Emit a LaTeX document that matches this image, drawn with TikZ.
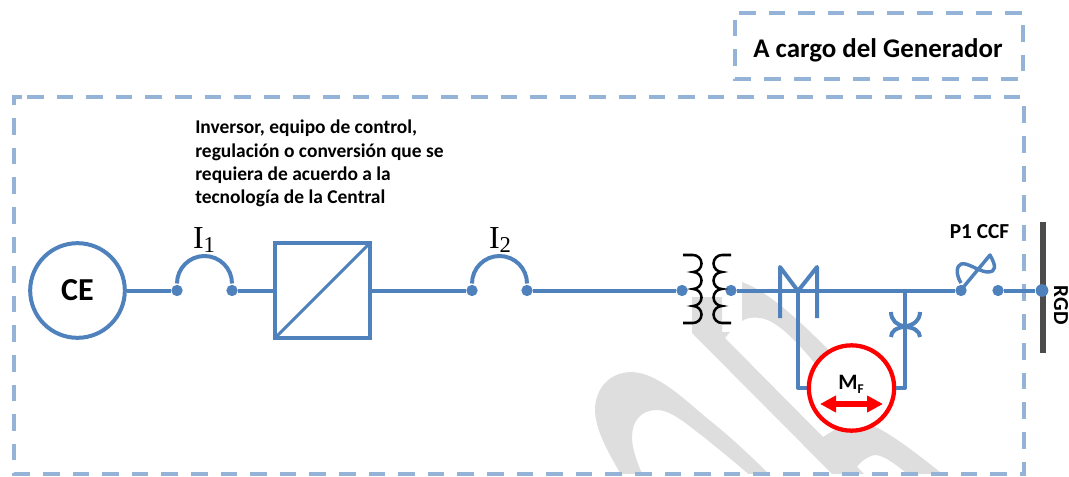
\documentclass[tikz,border=0pt]{standalone}
\usepackage{fontspec}
\setmainfont{Carlito}
\newfontfamily\serifI{Liberation Serif}
\usetikzlibrary{arrows.meta}
\definecolor{wire}{HTML}{4F81BD}
\definecolor{dashb}{HTML}{95B3D7}
\definecolor{wm}{HTML}{DEDEDE}
\newcommand{\fpt}[1]{\fontsize{#1}{17.5}\selectfont}
\tikzset{
 wireline/.style={draw=wire,line width=3pt,line join=round},
 thinw/.style={draw=wire,line width=2.2pt,line join=round},
 dashbox/.style={draw=dashb,line width=3pt,dash pattern=on 12.5pt off 9.7pt},
 dotn/.style={circle,fill=wire,inner sep=0pt,minimum size=8.5pt},
 lab/.style={inner sep=0pt,font=\bfseries,text=black},
 coil/.style={line width=1.9pt,draw=black},
}
\begin{document}
\begin{tikzpicture}[x=0.75pt,y=-0.75pt]
\useasboundingbox (0,0) rectangle (1069,477);
% watermark
\begin{scope}
\clip (0,0) rectangle (1069,473);
\fill[wm] (595,407) .. controls (597,385) and (612,372) .. (632,372) .. controls (660,373) and (690,405) .. (713,423) .. controls (735,441) and (755,460) .. (775,480) -- (755,480) .. controls (735,462) and (722,452) .. (705,438) .. controls (690,427) and (672,410) .. (657,410) .. controls (640,410) and (632,422) .. (632,437) .. controls (632,450) and (638,465) .. (645,480) -- (624,480) .. controls (610,455) and (594,430) .. (595,407) -- cycle;
\fill[wm] (692,297) -- (722,297) -- (722,332) -- (730,332) -- (725,338) -- (823,437) -- (850,420) -- (878,428) .. controls (900,440) and (925,460) .. (950,480) -- (915,480) .. controls (900,468) and (885,455) .. (875,455) .. controls (868,456) and (860,462) .. (857,467) -- (870,480) -- (838,480) -- (692,333) -- cycle;
\fill[wm] (742,282) .. controls (770,292) and (805,325) .. (850,372) -- (822,372) .. controls (800,345) and (778,320) .. (760,318) .. controls (752,317) and (746,318) .. (742,321) -- cycle;
\end{scope}
% dashed frames
\draw[dashbox] (27,97) -- (1024,97) -- (1024,474) -- (14,474) -- (14,97) -- (27,97);
\draw[dashbox] (739,13) -- (1023,13) -- (1023,79) -- (735,79) -- (735,13) -- (739,13);
\node[lab,font=\bfseries\fpt{20.2}] (gen) at (878,50) {A cargo del Generador};
% bus
\draw[line width=4pt,draw=black!70] (1043,222) -- (1043,353);
\node[lab,font=\bfseries\fpt{16},rotate=-90] (rgd) at (1061,305) {RGD};
% CE
\node[circle,draw=wire,line width=3pt,minimum size=71pt,inner sep=0pt,font=\bfseries\fpt{24}] (ce) at (77.5,290.5) {CE};
% switch I1
\node[dotn] (a1) at (177,290.5) {};
\node[dotn] (a2) at (232,290.5) {};
\draw[wireline] (ce) -- (a1);
\draw[wireline] (a1) ++(0,-7) arc[start angle=180,end angle=360,radius=27.5];
\node[inner sep=0pt,font=\serifI\fpt{24}] (i1) at (204,240) {I\raisebox{-3pt}{\fpt{17}1}};
% converter
\node[draw=wire,line width=3pt,minimum size=71pt,inner sep=0pt] (conv) at (322.5,290.5) {};
\draw[thinw,shorten <=1.5pt,shorten >=1.5pt] (conv.south west) -- (conv.north east);
\draw[wireline] (a2) -- (conv);
% I2
\node[dotn] (b1) at (472,290.5) {};
\node[dotn] (b2) at (527,290.5) {};
\draw[wireline] (conv) -- (b1);
\draw[wireline] (b1) ++(0,-7) arc[start angle=180,end angle=360,radius=27.5];
\node[inner sep=0pt,font=\serifI\fpt{24}] (i2) at (500,240) {I\raisebox{-3pt}{\fpt{17}2}};
% transformer
\node[dotn] (t1) at (682,290.5) {};
\node[dotn] (t2) at (731,290.5) {};
\draw[wireline] (b2) -- (t1);
\draw[coil] (683,255) -- (693,255) arc[start angle=-90,end angle=90,radius=8.5] arc[start angle=-90,end angle=90,radius=8.5] arc[start angle=-90,end angle=90,radius=8.5] arc[start angle=-90,end angle=90,radius=8.5] -- (683,323);
\draw[coil] (731,255) -- (722,255) arc[start angle=270,end angle=90,radius=8.5] arc[start angle=270,end angle=90,radius=8.5] arc[start angle=270,end angle=90,radius=8.5] arc[start angle=270,end angle=90,radius=8.5] -- (731,323);
% main line and disconnect
\node[dotn] (p1) at (961,290.5) {};
\node[dotn] (p2) at (998,290.5) {};
\node[dotn,minimum size=9.5pt] (busn) at (1042,290.5) {};
\draw[wireline] (t2) -- (p1);
\draw[wireline] (p2) -- (busn);
\draw[wireline] (780,318) -- (780,267) -- (798,291) -- (817,267) -- (817,318);
\draw[wireline] (798,291) -- (798,388) -- (820,388);
% measure
\node[circle,draw=red,fill=white,line width=3.2pt,minimum size=64pt,inner sep=0pt] (mf) at (851.5,388) {};
\draw[wireline] (905,290.5) -- (905,388) -- (mf);
\draw[wireline] (891,312) .. controls (891,320) and (897,326) .. (905,326) .. controls (913,326) and (920,320) .. (920,312);
\draw[wireline] (891,337) .. controls (891,331) and (897,327) .. (905,327) .. controls (913,327) and (920,331) .. (920,337);
\node[lab,font=\bfseries\fpt{16.5}] (mt) at (851,384) {M\raisebox{-3pt}{\fpt{10}F}};
\draw[red,line width=4pt,{Triangle[length=12pt,width=12pt]}-{Triangle[length=12pt,width=12pt]}] (820,404) -- (883,404);
% P1 CCF
\draw[wireline,line width=2.6pt] (961,290) -- (990,255) .. controls (996,266) and (997,272) .. (987,272) .. controls (978,271) and (967,262) .. (961,264) .. controls (956,266) and (956,275) .. (961,283);
\node[lab,font=\bfseries\fpt{16}] (pc) at (979.5,232) {P1 CCF};
% note
\node[lab,font=\bfseries\fpt{14.6},align=left,anchor=north west] (note) at (195,120) {Inversor, equipo de control,\\regulación o conversión que se\\requiera de acuerdo a la\\tecnología de la Central};
\end{tikzpicture}
\end{document}
